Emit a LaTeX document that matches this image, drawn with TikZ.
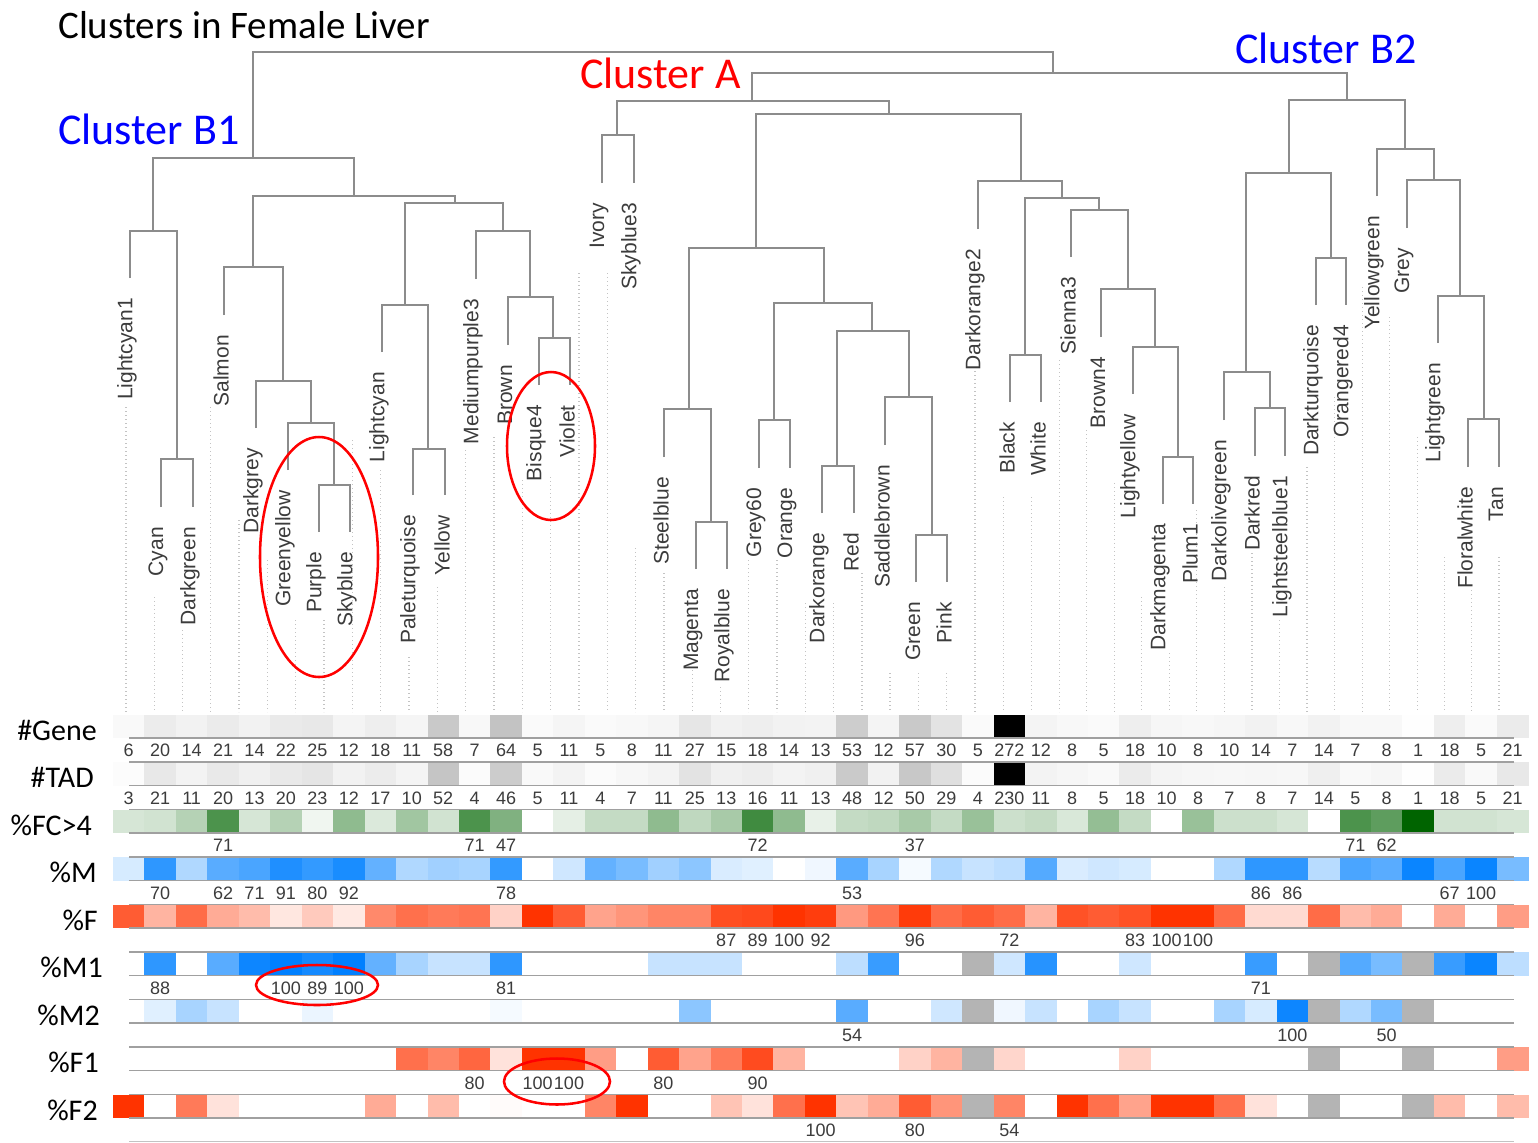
\documentclass[tikz,border=0pt]{standalone}
\usepackage{fontspec}
\setmainfont{Carlito}
\newfontfamily\arialf{Liberation Sans}
\definecolor{dgray}{RGB}{140,140,140}
\definecolor{lgray}{RGB}{160,160,160}
\definecolor{dotgray}{RGB}{195,195,195}
\definecolor{txtgray}{RGB}{60,60,60}
\definecolor{gbase}{RGB}{0,100,0}
\definecolor{bbase}{RGB}{0,128,255}
\definecolor{rbase}{RGB}{255,51,0}
\definecolor{nagray}{RGB}{180,180,180}
\definecolor{clblue}{RGB}{0,0,255}
\definecolor{clred}{RGB}{255,0,0}
\newcommand\heatrow[3]{%
  \foreach \v [count=\i] in {#3} {%
    \ifnum\v<0
      \fill[nagray] ({113+31.45*(\i-1)},{714.5+47.5*#1}) rectangle ++(31.75,23.5);
    \else
      \fill[#2!\v!white] ({113+31.45*(\i-1)},{714.5+47.5*#1}) rectangle ++(31.75,23.5);
    \fi
  }}
\newcommand\grayrow[3]{%
  \foreach \v [count=\i] in {#3} {%
    \pgfmathsetmacro\p{min(100,\v/#2*100)}
    \fill[black!\p] ({113+31.45*(\i-1)},{714.5+47.5*#1}) rectangle ++(31.75,23.5);
  }}
\begin{document}
\begin{tikzpicture}[x=0.75pt,y=-0.75pt,
  branch/.style={draw=dgray,line width=1.4pt},
  leaflab/.style={rotate=90,anchor=east,inner sep=0pt,text=txtgray,font=\arialf\fontsize{15.75}{18}\selectfont},
  num/.style={inner sep=0pt,text=txtgray,font=\arialf\fontsize{13.5}{16}\selectfont},
  rowlab/.style={anchor=east,inner sep=0pt,font=\fontsize{22.5}{26}\selectfont},
  clus/.style={anchor=base west,inner sep=0pt,font=\fontsize{33}{38}\selectfont},
  rowline/.style={draw=lgray,line width=1.1pt},
  dotline/.style={draw=dotgray,line width=0.8pt,dash pattern=on 1pt off 2pt},
  redring/.style={draw=clred,line width=1.9pt}
]
\useasboundingbox (0,0) rectangle (1538,1142);
\fill[white] (0,0) rectangle (1538,1142);

% title and cluster labels
\node[clus,font=\fontsize{29.25}{34}\selectfont] (title) at (58,38) {Clusters in Female Liver};
\node[clus,text=clblue] (cB1) at (58,144) {Cluster B1};
\node[clus,text=clred] (cA) at (580,88) {Cluster A};
\node[clus,text=clblue] (cB2) at (1235,63) {Cluster B2};

% dotted leaf guides
\foreach \x/\y in {126/407,154.3/597,182.7/630,210.7/407,239/520,267.3/560,295.7/620,324/620,352.3/440,380.7/470,409/657,437.3/587,465.7/450,494/437,522.7/480,550.7/477,579/273,607.3/273,635.7/548,664/573,692.3/670,720.3/687,748.7/560,777/560,805.3/603,833.7/603,862/573,890/673,918.3/673,946.7/673,975/367,1003.3/497,1031.7/497,1059.3/360,1086.7/430,1114.3/483,1141.7/597,1169.3/653,1196.7/510,1224.3/587,1252/553,1279.3/620,1307/467,1334.7/397,1362.3/287,1389.7/317,1417.3/437,1444.7/557,1471.3/590,1499/557}
  \draw[dotline] (\x,\y) -- (\x,712);

% dendrogram
\foreach \xl/\yl/\y/\xr/\yr in {253/158/52/1053/73,153/231/158/354/196,130/278/231/177/459,161/507/459/193/507,253/267/196/455/203,224/315/267/283/381,256/428/381/311/423,288/470/423/334/485,319/532/485/350/532,405/305/203/503/231,382/352/305/428/449,413/495/449/445/495,476/279/231/530/297,508/345/297/553/338,539/385/338/570/385,752/101/73/1347/100,617/135/101/889/114,602/183/135/634/183,756/248/114/1021/181,689/409/248/824/303,664/457/409/711/522,696/569/522/727/569,774/420/303/872/331,759/468/420/790/468,837/466/331/909/397,822/513/466/854/513,885/445/397/932/535,916/582/535/947/582,978/229/181/1062/198,1025/355/198/1099/210,1010/402/355/1041/402,1071/257/210/1128/289,1101/337/289/1155/347,1133/394/347/1178/457,1163/504/457/1193/504,1289/173/100/1405/149,1246/372/173/1331/258,1224/420/372/1270/408,1255/456/408/1285/456,1316/305/258/1346/305,1377/196/149/1434/180,1407/228/180/1460/296,1438/343/296/1484/419,1468/467/419/1499/467}
  \draw[branch] (\xl,\yl) -- (\xl,\y) -- (\xr,\y) -- (\xr,\yr);

% leaf labels
\foreach \n/\x/\y [count=\k] in {Lightcyan1/130/278,Cyan/161/507,Darkgreen/193/507,Salmon/224/315,Darkgrey/256/428,Greenyellow/288/470,Purple/319/532,Skyblue/350/532,Lightcyan/382/352,Paleturquoise/413/495,Yellow/445/495,Mediumpurple3/476/279,Brown/508/345,Bisque4/539/385,Violet/570/385,Ivory/602/183,Skyblue3/634/183,Steelblue/664/457,Magenta/696/569,Royalblue/727/569,Grey60/759/468,Orange/790/468,Darkorange/822/513,Red/854/513,Saddlebrown/885/445,Green/916/582,Pink/947/582,Darkorange2/978/229,Black/1010/402,White/1041/402,Sienna3/1071/257,Brown4/1101/337,Lightyellow/1133/394,Darkmagenta/1163/504,Plum1/1193/504,Darkolivegreen/1224/420,Darkred/1255/456,Lightsteelblue1/1285/456,Darkturquoise/1316/305,Orangered4/1346/305,Yellowgreen/1377/196,Grey/1407/228,Lightgreen/1438/343,Floralwhite/1468/467,Tan/1499/467}
  \node[leaflab] (leaf\k) at (\x-3,\y+20) {\n};

% heatmap cells
\grayrow{0}{272}{6,20,14,21,14,22,25,12,18,11,58,7,64,5,11,5,8,11,27,15,18,14,13,53,12,57,30,5,272,12,8,5,18,10,8,10,14,7,14,7,8,1,18,5,21}
\grayrow{1}{230}{3,21,11,20,13,20,23,12,17,10,52,4,46,5,11,4,7,11,25,13,16,11,13,48,12,50,29,4,230,11,8,5,18,10,8,7,8,7,14,5,8,1,18,5,21}
\heatrow{2}{gbase}{16,18,29,70,16,29,6,44,14,37,18,70,50,0,10,23,23,44,25,34,75,44,9,23,25,34,23,40,20,23,15,42,23,0,40,20,20,16,0,70,63,100,18,18,16}
\heatrow{3}{bbase}{16,82,31,65,71,88,80,90,61,31,37,34,80,0,19,61,53,37,45,15,12,0,6,65,34,4,31,22,26,67,15,19,16,0,0,31,82,82,28,71,65,96,71,96,53}
\heatrow{4}{rbase}{80,37,72,41,33,12,26,11,58,70,65,68,22,100,80,45,52,60,60,87,89,100,95,50,68,96,72,80,72,37,85,80,85,100,100,72,18,18,72,33,41,0,41,0,48}
\heatrow{5}{bbase}{0,82,0,65,95,100,92,100,61,34,22,22,82,0,0,0,0,22,22,22,0,0,0,26,78,0,0,-1,19,85,0,0,19,0,0,0,78,0,-1,67,53,-1,78,96,26}
\heatrow{6}{bbase}{0,12,34,22,0,0,8,0,0,0,0,0,4,0,0,0,0,0,45,0,0,0,0,65,0,0,19,-1,6,22,0,34,22,0,0,34,16,95,-1,31,53,-1,0,0,0}
\heatrow{7}{rbase}{0,0,0,0,0,0,0,0,0,70,60,75,14,100,100,48,0,80,45,65,88,37,0,0,0,22,37,-1,20,0,0,0,22,0,0,0,0,0,-1,0,0,-1,0,0,48}
\heatrow{8}{rbase}{100,0,65,14,0,0,0,0,41,0,33,0,2,0,0,60,100,0,0,29,14,70,100,29,41,80,52,-1,60,0,100,70,45,100,100,70,14,0,-1,0,0,-1,33,0,33}

% row rules
\draw[rowline] (129,738) -- (1514,738);
\foreach \r in {1,...,8} {
  \draw[rowline] (129,{714.5+47.5*\r}) -- (1514,{714.5+47.5*\r});
  \draw[rowline] (129,{738+47.5*\r}) -- (1514,{738+47.5*\r});
}
\draw[draw=dotgray,line width=0.8pt] (129,1141.5) -- (1514,1141.5);

% row labels
\foreach \t/\x/\r [count=\k] in {\#Gene/97/0,\#TAD/94/1,\%FC>4/92/2,\%M/97/3,\%F/98/4,\%M1/103/5,\%M2/100/6,\%F1/99/7,\%F2/98/8}
  \node[rowlab] (row\k) at (\x,{730+47.5*\r}) {\t};

% numbers
\foreach \v [count=\i] in {6,20,14,21,14,22,25,12,18,11,58,7,64,5,11,5,8,11,27,15,18,14,13,53,12,57,30,5,272,12,8,5,18,10,8,10,14,7,14,7,8,1,18,5,21}
  \node[num] (ng\i) at ({128.7+31.45*(\i-1)},750.5) {\v};
\foreach \v [count=\i] in {3,21,11,20,13,20,23,12,17,10,52,4,46,5,11,4,7,11,25,13,16,11,13,48,12,50,29,4,230,11,8,5,18,10,8,7,8,7,14,5,8,1,18,5,21}
  \node[num] (nt\i) at ({128.7+31.45*(\i-1)},798) {\v};
\foreach \c/\v/\r in {4/71/2,12/71/2,13/47/2,21/72/2,26/37/2,40/71/2,41/62/2,
  2/70/3,4/62/3,5/71/3,6/91/3,7/80/3,8/92/3,13/78/3,24/53/3,37/86/3,38/86/3,43/67/3,44/100/3,
  20/87/4,21/89/4,22/100/4,23/92/4,26/96/4,29/72/4,33/83/4,34/100/4,35/100/4,
  2/88/5,6/100/5,7/89/5,8/100/5,13/81/5,37/71/5,
  24/54/6,38/100/6,41/50/6,
  12/80/7,14/100/7,15/100/7,18/80/7,21/90/7,
  23/100/8,26/80/8,29/54/8}
  \node[num] (n\r-\c) at ({128.7+31.45*(\c-1)},{750.5+47.5*\r}) {\v};

% red ellipses
\draw[redring] (319,557) ellipse [x radius=59, y radius=120];
\draw[redring] (551,446) ellipse [x radius=44, y radius=74];
\draw[redring] (317,985) ellipse [x radius=61, y radius=20];
\draw[redring] (557,1081.5) ellipse [x radius=53, y radius=23];
\end{tikzpicture}
\end{document}
